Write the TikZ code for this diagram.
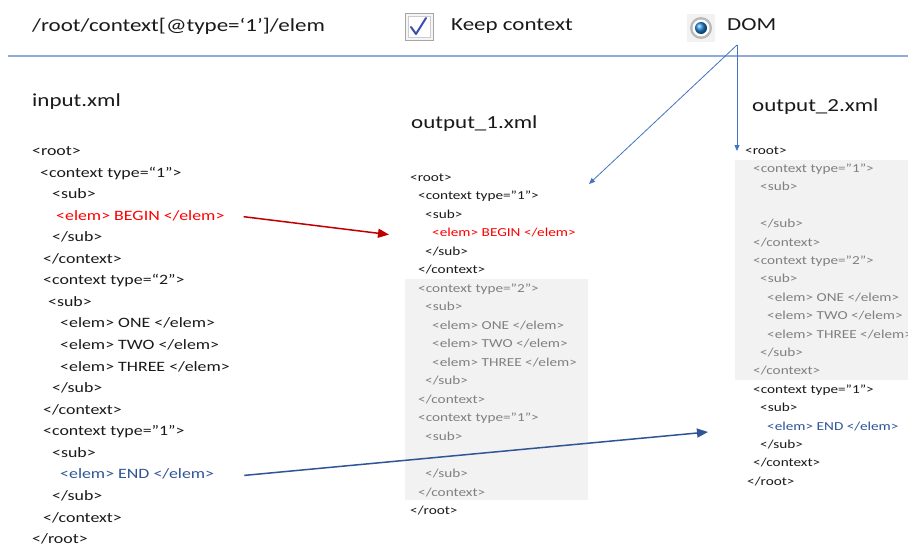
\documentclass[tikz,border=0pt]{standalone}
\usepackage{fontspec}
\setmainfont{Carlito}[FakeStretch=1.25]
\usetikzlibrary{arrows.meta}

\definecolor{rulecol}{HTML}{8FAADC}
\definecolor{domblue}{HTML}{4472C4}
\definecolor{endblue}{HTML}{2F5597}
\definecolor{beginred}{HTML}{FF0000}
\definecolor{arrowred}{HTML}{C00000}
\definecolor{boxgray}{HTML}{F2F2F2}
\definecolor{fadetext}{HTML}{808080}
\definecolor{codeblack}{HTML}{1A1A1A}
\definecolor{checkblue}{HTML}{3A4FAE}
\definecolor{radioblue}{HTML}{1E88D8}

\tikzset{
  title/.style={anchor=west, inner sep=0pt, text=codeblack, font=\fontsize{18.4}{22}\selectfont},
  incode/.style={anchor=west, inner sep=0pt, font=\fontsize{14.3}{17}\selectfont, text height=10pt, text depth=3pt},
  outcode/.style={anchor=west, inner sep=0pt, font=\fontsize{12.2}{15}\selectfont, text height=8.5pt, text depth=2.5pt},
  bigarrow/.style={line width=1.5pt, -{Triangle[length=11pt,width=9pt]}},
  domarrow/.style={domblue, line width=0.8pt, -{Triangle[length=6pt,width=5pt]}},
}

\begin{document}
\begin{tikzpicture}[x=1pt,y=-1pt]
  \useasboundingbox (0,0) rectangle (908,549);
  \fill[white] (0,0) rectangle (908,549);

  % Query bar
  \node[title] (xpath) at (32,26) {/root/context[@type=‘1’]/elem};
  \draw[gray!70, fill=gray!8] (405,13) rectangle (433,40);
  \draw[gray!40, fill=white] (408,16) rectangle (430,37);
  \draw[checkblue, line width=2pt, line cap=round, line join=round] (411,27) -- (416,34) -- (426,18);
  \node[title] (keep) at (451,26) {Keep context};
  \fill[gray!10] (687,14) rectangle (715,42);
  \fill[gray!55] (701,28) circle (11);
  \fill[white] (701,28) circle (8.5);
  \shade[ball color=radioblue] (701,28) circle (6);
  \node[title] (dom) at (727,25) {DOM};
  \draw[rulecol, line width=2pt] (8,56) -- (908,56);

  % input.xml
  \node[title] (intitle) at (32,102) {input.xml};
  \foreach \i/\xx/\col/\txt in {
    0/32/codeblack/{<root>},
    1/40/codeblack/{<context type=“1">},
    2/52/codeblack/{<sub>},
    3/56/beginred/{<elem> BEGIN </elem>},
    4/52/codeblack/{</sub>},
    5/43/codeblack/{</context>},
    6/43/codeblack/{<context type=“2">},
    7/48/codeblack/{<sub>},
    8/60/codeblack/{<elem> ONE </elem>},
    9/60/codeblack/{<elem> TWO </elem>},
    10/60/codeblack/{<elem> THREE </elem>},
    11/52/codeblack/{</sub>},
    12/43/codeblack/{</context>},
    13/43/codeblack/{<context type="1">},
    14/52/codeblack/{<sub>},
    15/60/endblue/{<elem> END </elem>},
    16/52/codeblack/{</sub>},
    17/43/codeblack/{</context>},
    18/32/codeblack/{</root>}}
    \node[incode, text=\col] (in-\i) at (\xx, 152+21.56*\i) {\txt};

  % output_1.xml
  \fill[boxgray] (405,279) rectangle (588,500);
  \node[title] (onetitle) at (411,124) {output\_1.xml};
  \foreach \i/\xx/\col/\txt in {
    0/410/codeblack/{<root>},
    1/418/codeblack/{<context type="1">},
    2/425/codeblack/{<sub>},
    3/432/beginred/{<elem> BEGIN </elem>},
    4/425/codeblack/{</sub>},
    5/418/codeblack/{</context>},
    6/418/fadetext/{<context type="2">},
    7/425/fadetext/{<sub>},
    8/432/fadetext/{<elem> ONE </elem>},
    9/432/fadetext/{<elem> TWO </elem>},
    10/432/fadetext/{<elem> THREE </elem>},
    11/425/fadetext/{</sub>},
    12/418/fadetext/{</context>},
    13/418/fadetext/{<context type="1">},
    14/425/fadetext/{<sub>},
    16/425/fadetext/{</sub>},
    17/418/fadetext/{</context>},
    18/410/codeblack/{</root>}}
    \node[outcode, text=\col] (one-\i) at (\xx, 178+18.53*\i) {\txt};

  % output_2.xml
  \fill[boxgray] (735,160) rectangle (910,380);
  \node[title] (twotitle) at (752,107) {output\_2.xml};
  \foreach \i/\xx/\col/\txt in {
    0/745/codeblack/{<root>},
    1/753/fadetext/{<context type="1">},
    2/760/fadetext/{<sub>},
    4/760/fadetext/{</sub>},
    5/753/fadetext/{</context>},
    6/753/fadetext/{<context type="2">},
    7/760/fadetext/{<sub>},
    8/767/fadetext/{<elem> ONE </elem>},
    9/767/fadetext/{<elem> TWO </elem>},
    10/767/fadetext/{<elem> THREE </elem>},
    11/760/fadetext/{</sub>},
    12/753/fadetext/{</context>},
    13/753/codeblack/{<context type="1">},
    14/760/codeblack/{<sub>},
    15/767/endblue/{<elem> END </elem>},
    16/760/codeblack/{</sub>},
    17/753/codeblack/{</context>},
    18/747/codeblack/{</root>}}
    \node[outcode, text=\col] (two-\i) at (\xx, 151+18.4*\i) {\txt};

  % Moves
  \draw[bigarrow, arrowred] ([xshift=19pt]in-3.east) -- ([xshift=-43pt,yshift=-1pt]one-3.west);
  \draw[bigarrow, endblue] ([xshift=30pt]in-15.east) -- ([xshift=-59pt,yshift=-5pt]two-15.west);

  % DOM pointers
  \coordinate (domsrc) at (737,45);
  \coordinate (domhit) at (589,184);
  \draw[domarrow] (domsrc) -- (domsrc |- two-0.west);
  \draw[domarrow] (domsrc) -- (domhit);
\end{tikzpicture}
\end{document}
